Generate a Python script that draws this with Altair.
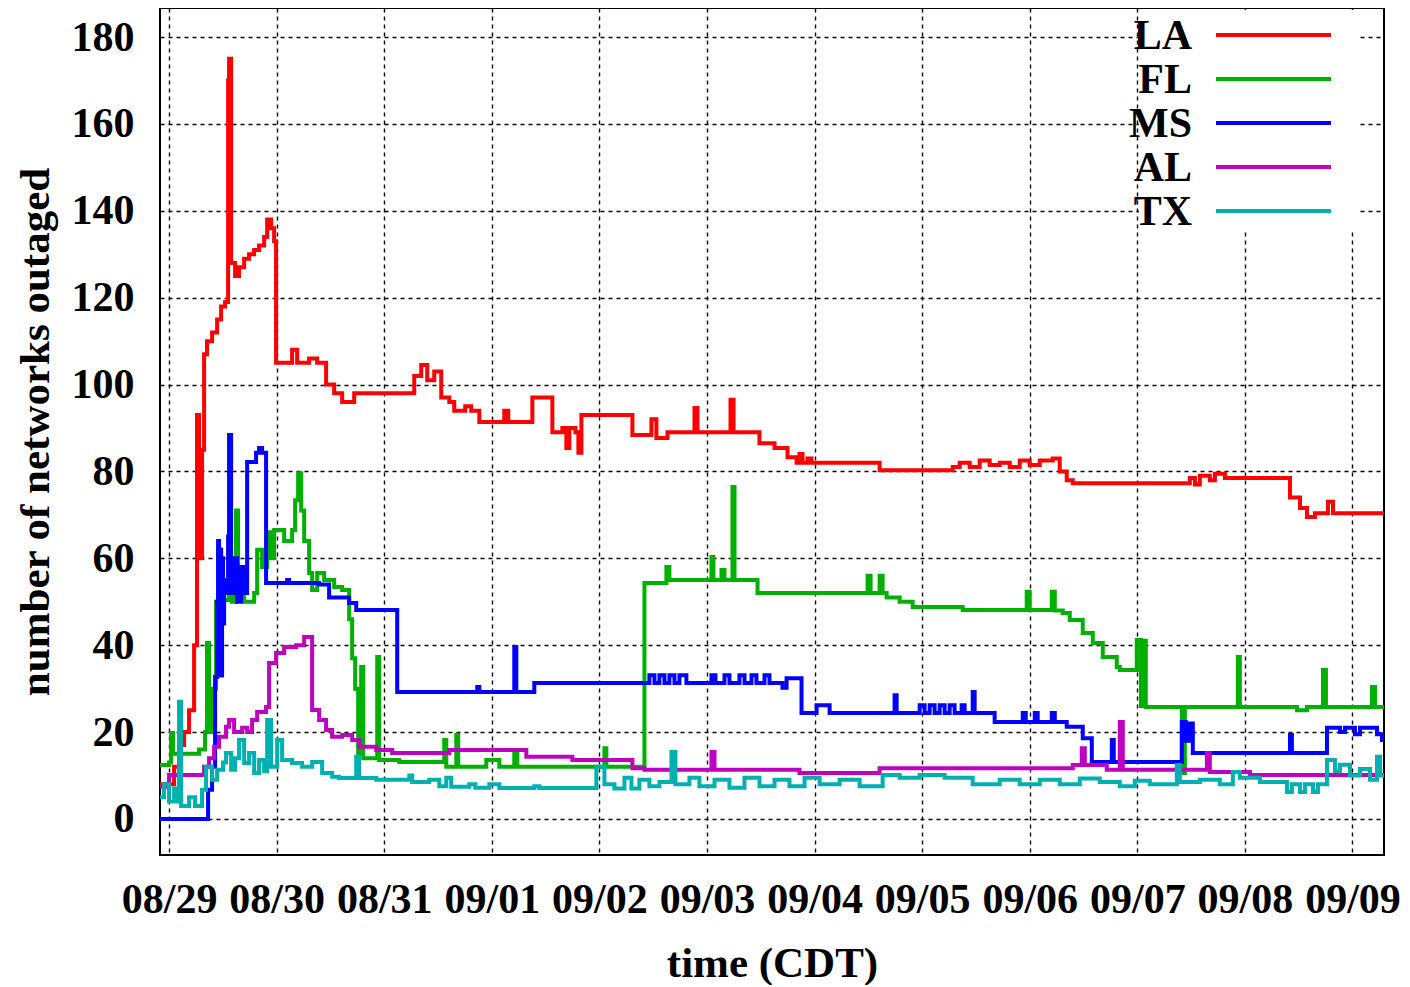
import altair as alt
import pandas as pd

# ---------------- data (time in days since 08/29 00:00 CDT) ----------------
TICK_LABELS = ['08/29', '08/30', '08/31', '09/01', '09/02', '09/03',
               '09/04', '09/05', '09/06', '09/07', '09/08', '09/09']
Y_TICKS = [0, 20, 40, 60, 80, 100, 120, 140, 160, 180]
SERIES = ['LA', 'FL', 'MS', 'AL', 'TX']
COLORS = ['#ff0000', '#00b000', '#0000ff', '#c000c0', '#00b0b0']

LA = [(-0.084, 8), (0.047, 12), (0.093, 17), (0.140, 20), (0.186, 25), (0.233, 40),
      (0.260, 93), (0.279, 60), (0.307, 85), (0.326, 107), (0.353, 110), (0.400, 112),
      (0.447, 115), (0.484, 118), (0.521, 119), (0.549, 170), (0.558, 175), (0.577, 128),
      (0.614, 125), (0.651, 127), (0.698, 129), (0.744, 130), (0.791, 131), (0.837, 132),
      (0.884, 134), (0.912, 138), (0.949, 136), (0.977, 133), (0.995, 105), (1.144, 108),
      (1.191, 105), (1.302, 106), (1.377, 105), (1.460, 100), (1.535, 98), (1.609, 96),
      (1.721, 98), (2.279, 102), (2.344, 104.5), (2.400, 101), (2.465, 103), (2.530, 97),
      (2.605, 96), (2.651, 94), (2.753, 95), (2.809, 94), (2.884, 91.4), (3.116, 94),
      (3.153, 91.4), (3.377, 97), (3.563, 89), (3.656, 90), (3.693, 85.4), (3.721, 90),
      (3.777, 89), (3.805, 84.3), (3.833, 93), (4.307, 88.4), (4.484, 92), (4.530, 87.7),
      (4.633, 89), (4.884, 94.6), (4.912, 89), (5.219, 96.5), (5.247, 89), (5.488, 86.5),
      (5.628, 85.4), (5.749, 83.3), (5.833, 82), (5.860, 84), (5.888, 82), (5.935, 83),
      (5.972, 82), (6.605, 80.3), (7.284, 81), (7.349, 82), (7.442, 81), (7.535, 82.5),
      (7.628, 81.5), (7.721, 82), (7.814, 81), (7.907, 82.5), (8.000, 81.5), (8.093, 82.5),
      (8.214, 83), (8.279, 80), (8.344, 78), (8.400, 77.3), (9.488, 78.5), (9.535, 77),
      (9.581, 79), (9.674, 78), (9.721, 79.5), (9.814, 78.5), (10.419, 74), (10.512, 71.6),
      (10.577, 69.5), (10.651, 70.4), (10.772, 73), (10.819, 70.4), (11.293, 70.4)]

FL = [(-0.084, 12.4), (0.0, 13), (0.019, 19.8), (0.037, 15), (0.279, 16), (0.335, 20),
      (0.353, 40.5), (0.372, 20), (0.409, 30), (0.437, 50), (0.456, 62), (0.484, 55),
      (0.512, 50.4), (0.558, 55), (0.586, 50), (0.623, 71), (0.642, 55), (0.698, 50),
      (0.791, 52), (0.819, 62), (0.865, 58), (0.912, 66), (0.949, 60), (0.977, 66.5),
      (1.070, 64), (1.144, 66.5), (1.172, 73.4), (1.200, 79.6), (1.228, 71), (1.256, 64),
      (1.302, 56.6), (1.330, 52.7), (1.377, 56.6), (1.442, 55), (1.535, 53.4), (1.609, 52.7),
      (1.674, 46), (1.702, 37), (1.730, 30), (1.758, 15), (1.786, 35), (1.805, 14),
      (1.935, 37.3), (1.953, 13.6), (2.140, 13.1), (2.558, 18.2), (2.577, 12), (2.670, 19.3),
      (2.688, 12), (2.949, 13.6), (3.070, 12), (3.209, 15.9), (3.237, 12), (4.047, 16.3),
      (4.065, 12), (4.419, 54.3), (4.623, 58), (4.651, 55), (5.042, 60.3), (5.060, 55),
      (5.135, 57.3), (5.163, 55), (5.237, 76.4), (5.256, 55), (5.470, 52), (6.493, 56),
      (6.521, 52), (6.605, 56), (6.633, 52), (6.670, 51), (6.791, 50), (6.912, 48.8),
      (7.377, 48.1), (7.972, 52.3), (8.000, 48.1), (8.205, 52.3), (8.233, 48), (8.307, 47.4),
      (8.372, 45.8), (8.493, 42.8), (8.586, 40.5), (8.679, 37.3), (8.809, 35), (8.837, 34.3),
      (8.995, 41.2), (9.033, 26), (9.051, 41), (9.079, 25.8), (9.414, 10.6), (9.442, 25.8),
      (9.935, 37.3), (9.953, 25.8), (10.484, 25), (10.577, 25.8), (10.726, 34.3),
      (10.753, 25.8), (11.181, 30.4), (11.209, 25.8), (11.293, 25.8)]

MS = [(-0.084, 0), (0.344, 0), (0.363, 6.7), (0.400, 12), (0.428, 32.7), (0.447, 50),
      (0.456, 64), (0.465, 40), (0.474, 62), (0.484, 33), (0.493, 60), (0.502, 45),
      (0.512, 55), (0.530, 52), (0.549, 65), (0.558, 88.4), (0.577, 52), (0.605, 60),
      (0.633, 50), (0.670, 58), (0.698, 52), (0.726, 82.2), (0.809, 84.3), (0.837, 85.4),
      (0.865, 84.3), (0.902, 54.3), (1.098, 55), (1.116, 54.3), (1.395, 54), (1.488, 51),
      (1.674, 49.7), (1.740, 48.1), (2.121, 29.2), (2.865, 30.4), (2.884, 29.2),
      (3.209, 39.6), (3.228, 29.2), (3.395, 31.3), (4.465, 33.1), (4.512, 31.3),
      (4.558, 33.1), (4.605, 31.3), (4.651, 33.1), (4.698, 31.3), (4.744, 33.1),
      (4.809, 31.3), (5.042, 33.1), (5.079, 31.3), (5.163, 33.1), (5.209, 31.3),
      (5.302, 33.1), (5.349, 31.3), (5.414, 33.1), (5.460, 31.3), (5.535, 33.1),
      (5.581, 31.3), (5.702, 30.2), (5.740, 32.4), (5.879, 24.4), (6.019, 26.2),
      (6.140, 24.4), (6.744, 28.5), (6.763, 24.4), (6.977, 26.2), (7.023, 24.4),
      (7.070, 26.2), (7.116, 24.4), (7.163, 26.2), (7.209, 24.4), (7.256, 26.2),
      (7.302, 24.4), (7.367, 26.2), (7.395, 24.4), (7.470, 29.2), (7.488, 24.4),
      (7.674, 22.3), (7.935, 24.4), (7.963, 22.3), (8.047, 24.4), (8.074, 22.3),
      (8.205, 24.4), (8.233, 22.3), (8.344, 21.2), (8.493, 18.6), (8.577, 13.1),
      (8.763, 18.2), (8.781, 13.1), (9.414, 22.3), (9.451, 18), (9.488, 22),
      (9.516, 15.2), (10.419, 19.3), (10.437, 15.2), (10.763, 21), (10.884, 20),
      (10.930, 21), (11.023, 19.5), (11.070, 21), (11.228, 19.5), (11.274, 18.2),
      (11.293, 18.2)]

AL = [(-0.084, 7.4), (0.0, 10.1), (0.326, 12), (0.372, 14), (0.419, 16.6), (0.465, 18.9),
      (0.530, 21.2), (0.558, 22.8), (0.605, 20), (0.679, 21), (0.726, 20), (0.772, 22.8),
      (0.819, 24.6), (0.902, 25.8), (0.930, 35.9), (0.995, 38.2), (1.070, 39.6),
      (1.181, 40), (1.256, 41.9), (1.330, 25.1), (1.395, 22.8), (1.460, 20.5),
      (1.516, 18.9), (1.609, 19.3), (1.702, 18.2), (1.767, 16.6), (1.926, 15.9),
      (2.074, 15.2), (2.605, 15.9), (3.321, 14.3), (3.749, 13.6), (4.307, 11.7),
      (4.419, 11.3), (5.042, 15.4), (5.070, 11.3), (5.860, 10.6), (6.605, 11.7),
      (8.400, 12.4), (8.484, 16.3), (8.512, 12.4), (8.716, 11.3), (8.837, 22.3),
      (8.865, 11.3), (9.647, 15.2), (9.674, 10.8), (10.047, 10.1), (11.293, 10.1)]

TX = [(-0.084, 5), (-0.047, 8), (0.0, 4), (0.047, 7), (0.074, 4), (0.093, 27), (0.112, 3),
      (0.186, 5), (0.242, 3), (0.307, 6.7), (0.344, 12), (0.400, 9), (0.447, 11.3),
      (0.502, 13), (0.530, 15.2), (0.577, 11.3), (0.614, 14), (0.651, 18.2), (0.698, 12.9),
      (0.744, 15.2), (0.791, 10.6), (0.837, 13.6), (0.884, 11), (0.912, 22.8), (0.949, 12),
      (1.005, 18.2), (1.051, 13.6), (1.144, 12.9), (1.237, 12), (1.330, 13.1),
      (1.423, 10.6), (1.516, 9.7), (1.581, 9.4), (1.740, 14.3), (1.767, 9.4), (1.926, 9),
      (2.140, 9), (2.233, 10), (2.260, 8.5), (2.419, 9), (2.512, 7.5), (2.577, 9.5),
      (2.623, 7.4), (2.791, 8), (2.847, 7.2), (2.977, 8), (3.070, 7.1), (3.395, 7.5),
      (3.442, 7.1), (3.972, 12), (4.047, 8), (4.140, 7), (4.233, 9.5), (4.298, 7),
      (4.372, 9), (4.465, 7.5), (4.558, 8.5), (4.670, 15.4), (4.707, 8), (4.837, 9.5),
      (4.930, 7.5), (5.070, 9), (5.209, 7.2), (5.349, 9.5), (5.488, 7.5), (5.628, 9),
      (5.767, 7.5), (5.907, 9.5), (6.047, 8), (6.233, 9), (6.419, 7.5), (6.633, 10.1),
      (6.791, 9.5), (6.977, 10.1), (7.209, 9.5), (7.470, 8), (7.721, 9), (7.907, 8),
      (8.093, 9), (8.279, 8), (8.465, 9.3), (8.651, 8.5), (8.837, 7.5), (8.977, 8.8),
      (9.116, 8), (9.367, 12.4), (9.395, 8.5), (9.581, 9), (9.767, 8), (9.888, 10.8),
      (9.953, 9.5), (10.140, 8.5), (10.391, 6.2), (10.437, 8), (10.512, 6.2), (10.558, 8),
      (10.633, 6.2), (10.679, 8), (10.763, 13.6), (10.837, 11), (10.884, 12.5),
      (10.977, 10), (11.070, 11.5), (11.163, 9), (11.228, 14.3), (11.256, 10),
      (11.293, 10)]

SERIES_POINTS = [LA, FL, MS, AL, TX]

# ---------------- styling ----------------
FONT = 'Liberation Serif'
FS = 42
X_DOMAIN = [-0.084, 11.293]
Y_DOMAIN = [-8.3, 186.7]
W, H = 1224, 847

label_expr = "[" + ",".join("'%s'" % s for s in TICK_LABELS) + "][round(datum.value)]"

x_axis = alt.Axis(values=list(range(len(TICK_LABELS))), labelExpr=label_expr,
                  title='time (CDT)', grid=True, gridColor='black', gridDash=[4, 4],
                  gridWidth=1.4, gridOpacity=1, ticks=False, domain=False,
                  labelFont=FONT, labelFontSize=FS, labelFontWeight='bold',
                  labelColor='black', labelPadding=24, labelOverlap=False,
                  labelFlush=False, titleFont=FONT, titleFontSize=FS + 1,
                  titleFontWeight='bold', titleColor='black', titlePadding=22)
y_axis = alt.Axis(values=Y_TICKS, title='number of networks outaged', grid=True,
                  gridColor='black', gridDash=[4, 4], gridWidth=1.4, gridOpacity=1,
                  ticks=False, domain=False, labelFont=FONT, labelFontSize=FS,
                  labelFontWeight='bold', labelColor='black', labelPadding=26,
                  labelOverlap=False, labelFlush=False, titleFont=FONT,
                  titleFontSize=FS + 1, titleFontWeight='bold', titleColor='black',
                  titlePadding=14)

layers = []
for name, color, pts in zip(SERIES, COLORS, SERIES_POINTS):
    df = pd.DataFrame(pts, columns=['t', 'v'])
    layers.append(
        alt.Chart(df).mark_line(interpolate='step-after', color=color,
                                strokeWidth=4, clip=True).encode(
            x=alt.X('t:Q', scale=alt.Scale(domain=X_DOMAIN, nice=False, zero=False),
                    axis=x_axis),
            y=alt.Y('v:Q', scale=alt.Scale(domain=Y_DOMAIN, nice=False, zero=False),
                    axis=y_axis),
        )
    )

# key (inside top-right, gnuplot style)
key_df = pd.DataFrame({'k': [0]})
layers.append(alt.Chart(key_df).mark_rect(color='white').encode(
    x=alt.value(979), x2=alt.value(1197), y=alt.value(2), y2=alt.value(224)))
KEY_Y = [27, 71, 115, 159, 203]
for name, color, ky in zip(SERIES, COLORS, KEY_Y):
    layers.append(alt.Chart(key_df).mark_text(
        text=name, align='right', baseline='middle', font=FONT, fontSize=FS,
        fontWeight='bold', color='black').encode(x=alt.value(1032), y=alt.value(ky + 1)))
    layers.append(alt.Chart(key_df).mark_rule(color=color, strokeWidth=4).encode(
        x=alt.value(1056), x2=alt.value(1171), y=alt.value(ky)))

chart = alt.layer(*layers).properties(
    width=W, height=H,
    padding={'left': 6, 'top': 0, 'right': 0, 'bottom': 0},
    background='white',
).configure_view(stroke='black', strokeWidth=2)

chart.save("out.html", embed_options={"renderer": "svg", "actions": False})
